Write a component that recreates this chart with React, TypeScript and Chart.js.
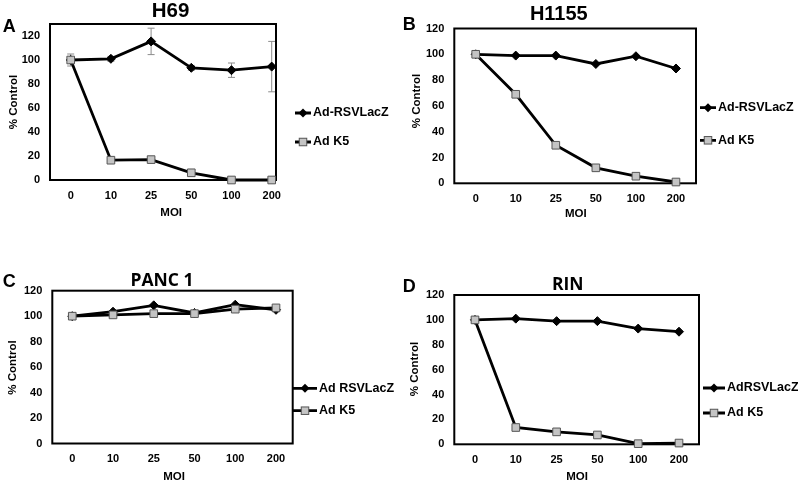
import React, { useEffect, useRef } from "react";
import { Chart, registerables } from "chart.js";

Chart.register(...registerables);

// ---------- data ----------
const moiLabels = ["0", "10", "25", "50", "100", "200"];

const h69LacZ = [100, 101, 115.5, 93.5, 91.5, 94.5];
const h69LacZErr = [5, 2, 11, 2, 6, 21];
const h69K5 = [100, 16.5, 17, 6, 0, 0];

const h1155LacZ = [100, 99, 99, 92.5, 98.5, 89];
const h1155K5 = [100, 69, 29.5, 12, 5.5, 1];

const panc1LacZ = [100, 103.5, 108.5, 102.5, 109, 105];
const panc1K5 = [100, 101, 102, 102, 105.5, 106.5];

const rinLacZ = [100, 101, 99, 99, 93, 90.5];
const rinK5 = [100, 13.5, 10, 7.5, 0.5, 1];

const yTicks = [0, 20, 40, 60, 80, 100, 120];

// ---------- layout ----------
const ARIAL = "'Liberation Sans', Arial, Helvetica, sans-serif";
const CALI = "'Open Sans', 'Noto Sans', sans-serif";
const YW = 40;
const XH = 30;
const LINE_W = 2.8;

interface PanelCfg {
  id: string;
  letter: string;
  title: string;
  titleFont: string;
  titleSize: number;
  lacz: number[];
  k5: number[];
  laczErr?: number[];
  laczName: string;
  k5Name: string;
  box: { left: number; top: number; w: number; h: number };
  area: { l: number; t: number; r: number; b: number };
  xMin: number;
  xMax: number;
  yMax: number;
  letterAt: [number, number];
  titleAt: [number, number];
  yTitleAt: [number, number];
  xTitleY: number;
  legend: { x: number; y1: number; y2: number; len: number };
}

const panels: PanelCfg[] = [
  {
    id: "A",
    letter: "A",
    title: "H69",
    titleFont: ARIAL,
    titleSize: 20.5,
    lacz: h69LacZ,
    k5: h69K5,
    laczErr: h69LacZErr,
    laczName: "Ad-RSVLacZ",
    k5Name: "Ad K5",
    box: { left: 0, top: 0, w: 399, h: 240 },
    area: { l: 50, t: 24, r: 276, b: 180 },
    xMin: -0.515,
    xMax: 5.107,
    yMax: 130,
    letterAt: [2.7, 26],
    titleAt: [170.5, 9.5],
    yTitleAt: [13.5, 102],
    xTitleY: 212.7,
    legend: { x: 295, y1: 113, y2: 142, len: 16 },
  },
  {
    id: "B",
    letter: "B",
    title: "H1155",
    titleFont: ARIAL,
    titleSize: 20,
    lacz: h1155LacZ,
    k5: h1155K5,
    laczName: "Ad-RSVLacZ",
    k5Name: "Ad K5",
    box: { left: 399, top: 0, w: 399, h: 240 },
    area: { l: 55.3, t: 28.5, r: 297, b: 183.3 },
    xMin: -0.534,
    xMax: 5.5,
    yMax: 120,
    letterAt: [3.7, 23.3],
    titleAt: [159.8, 13.3],
    yTitleAt: [17.5, 101],
    xTitleY: 214,
    legend: { x: 301, y1: 107.7, y2: 140.3, len: 16 },
  },
  {
    id: "C",
    letter: "C",
    title: "PANC 1",
    titleFont: CALI,
    titleSize: 17.5,
    lacz: panc1LacZ,
    k5: panc1K5,
    laczName: "Ad RSVLacZ",
    k5Name: "Ad K5",
    box: { left: 0, top: 240, w: 399, h: 241 },
    area: { l: 52.3, t: 50.7, r: 292.7, b: 203.5 },
    xMin: -0.49,
    xMax: 5.41,
    yMax: 120,
    letterAt: [2.7, 40.5],
    titleAt: [162, 40],
    yTitleAt: [13.3, 127.5],
    xTitleY: 236.7,
    legend: { x: 293, y1: 148.3, y2: 170.7, len: 24 },
  },
  {
    id: "D",
    letter: "D",
    title: "RIN",
    titleFont: CALI,
    titleSize: 17.5,
    lacz: rinLacZ,
    k5: rinK5,
    laczName: "AdRSVLacZ",
    k5Name: "Ad K5",
    box: { left: 399, top: 240, w: 399, h: 241 },
    area: { l: 55.3, t: 55, r: 300, b: 204.3 },
    xMin: -0.507,
    xMax: 5.49,
    yMax: 120,
    letterAt: [3.7, 45.8],
    titleAt: [168.7, 43.3],
    yTitleAt: [16, 129],
    xTitleY: 237,
    legend: { x: 304, y1: 148, y2: 173, len: 22 },
  },
];

function drawDiamond(ctx: CanvasRenderingContext2D, x: number, y: number, r: number) {
  ctx.beginPath();
  ctx.moveTo(x, y - r);
  ctx.lineTo(x + r, y);
  ctx.lineTo(x, y + r);
  ctx.lineTo(x - r, y);
  ctx.closePath();
  ctx.fillStyle = "#000";
  ctx.fill();
}

function drawSquare(ctx: CanvasRenderingContext2D, x: number, y: number, s: number) {
  ctx.fillStyle = "#c4c4c4";
  ctx.fillRect(x - s / 2, y - s / 2, s, s);
  ctx.strokeStyle = "#555";
  ctx.lineWidth = 1;
  ctx.strokeRect(x - s / 2, y - s / 2, s, s);
}

function PanelChart({ p }: { p: PanelCfg }) {
  const ref = useRef<HTMLCanvasElement | null>(null);

  useEffect(() => {
    if (!ref.current) return;
    const W = p.box.w;
    const H = p.box.h;

    const decor = {
      id: "decor_" + p.id,
      beforeDatasetsDraw(chart: any) {
        const ctx: CanvasRenderingContext2D = chart.ctx;
        const a = chart.chartArea;
        const xs = chart.scales.x;
        const ys = chart.scales.y;
        if (p.laczErr) {
          ctx.save();
          ctx.strokeStyle = "#8c8c8c";
          ctx.lineWidth = 1;
          p.laczErr.forEach((e, i) => {
            if (!e) return;
            const x = xs.getPixelForValue(i);
            const y1 = ys.getPixelForValue(p.lacz[i] + e);
            const y2 = ys.getPixelForValue(p.lacz[i] - e);
            ctx.beginPath();
            ctx.moveTo(x, y1);
            ctx.lineTo(x, y2);
            ctx.moveTo(x - 3.5, y1);
            ctx.lineTo(x + 3.5, y1);
            ctx.moveTo(x - 3.5, y2);
            ctx.lineTo(x + 3.5, y2);
            ctx.stroke();
          });
          ctx.restore();
        }
        ctx.save();
        ctx.strokeStyle = "#000";
        ctx.lineWidth = 2;
        ctx.strokeRect(a.left, a.top, a.right - a.left, a.bottom - a.top);
        ctx.restore();
      },
      afterDraw(chart: any) {
        const ctx: CanvasRenderingContext2D = chart.ctx;
        const xs = chart.scales.x;
        ctx.save();
        ctx.fillStyle = "#000";
        // panel letter
        ctx.font = `bold 18px ${ARIAL}`;
        ctx.textAlign = "left";
        ctx.textBaseline = "alphabetic";
        ctx.fillText(p.letter, p.letterAt[0], p.letterAt[1] + 18 * 0.358);
        // title
        ctx.font = `bold ${p.titleSize}px ${p.titleFont}`;
        ctx.textAlign = "center";
        ctx.fillText(p.title, p.titleAt[0], p.titleAt[1] + p.titleSize * 0.358);
        // y title
        ctx.save();
        ctx.translate(p.yTitleAt[0], p.yTitleAt[1]);
        ctx.rotate(-Math.PI / 2);
        ctx.font = `bold 11.5px ${ARIAL}`;
        ctx.textAlign = "center";
        ctx.textBaseline = "middle";
        ctx.fillText("% Control", 0, 0);
        ctx.restore();
        // x title
        ctx.font = `bold 11.5px ${ARIAL}`;
        ctx.textAlign = "center";
        ctx.textBaseline = "middle";
        ctx.fillText("MOI", xs.getPixelForValue(2.5), p.xTitleY);
        // legend
        const L = p.legend;
        const mid = L.x + L.len / 2;
        ctx.strokeStyle = "#000";
        ctx.lineWidth = LINE_W;
        ctx.beginPath();
        ctx.moveTo(L.x, L.y1);
        ctx.lineTo(L.x + L.len, L.y1);
        ctx.moveTo(L.x, L.y2);
        ctx.lineTo(L.x + L.len, L.y2);
        ctx.stroke();
        drawDiamond(ctx, mid, L.y1, 4.5);
        drawSquare(ctx, mid, L.y2, 7.5);
        ctx.fillStyle = "#000";
        ctx.font = `bold 12.5px ${ARIAL}`;
        ctx.textAlign = "left";
        ctx.textBaseline = "middle";
        ctx.fillText(p.laczName, L.x + L.len + 2, L.y1);
        ctx.fillText(p.k5Name, L.x + L.len + 2, L.y2);
        ctx.restore();
      },
    };

    const chart = new Chart(ref.current, {
      type: "line",
      data: {
        datasets: [
          {
            label: p.laczName,
            data: p.lacz.map((y, i) => ({ x: i, y })),
            borderColor: "#000",
            borderWidth: LINE_W,
            pointStyle: "rectRot",
            pointRadius: 4.5,
            pointBackgroundColor: "#000",
            pointBorderColor: "#000",
            pointBorderWidth: 1,
            tension: 0,
            clip: false,
            order: 2,
          } as any,
          {
            label: p.k5Name,
            data: p.k5.map((y, i) => ({ x: i, y })),
            borderColor: "#000",
            borderWidth: LINE_W,
            pointStyle: "rect",
            pointRadius: 5.4,
            pointBackgroundColor: "#c4c4c4",
            pointBorderColor: "#555",
            pointBorderWidth: 1,
            tension: 0,
            clip: false,
            order: 1,
          } as any,
        ],
      },
      options: {
        responsive: false,
        animation: false,
        devicePixelRatio: 1,
        layout: {
          padding: {
            left: p.area.l - YW,
            top: p.area.t,
            right: W - p.area.r,
            bottom: H - p.area.b - XH,
          },
        },
        plugins: {
          legend: { display: false },
          tooltip: { enabled: false },
          title: { display: false },
        },
        scales: {
          x: {
            type: "linear",
            min: p.xMin,
            max: p.xMax,
            grid: { display: false, drawTicks: false },
            border: { display: false },
            afterBuildTicks: (s: any) => {
              s.ticks = moiLabels.map((_, i) => ({ value: i }));
            },
            afterFit: (s: any) => {
              s.height = XH;
            },
            ticks: {
              padding: 9,
              autoSkip: false,
              maxRotation: 0,
              color: "#000",
              font: { family: ARIAL, size: 11, weight: "bold" },
              callback: (v: any) => moiLabels[Math.round(Number(v))] ?? "",
            },
          },
          y: {
            type: "linear",
            min: 0,
            max: p.yMax,
            grid: { display: false, drawTicks: false },
            border: { display: false },
            afterBuildTicks: (s: any) => {
              s.ticks = yTicks.map((v) => ({ value: v }));
            },
            afterFit: (s: any) => {
              s.width = YW;
            },
            ticks: {
              padding: 10,
              color: "#000",
              font: { family: ARIAL, size: 11, weight: "bold" },
              callback: (v: any) => String(v),
            },
          },
        },
      } as any,
      plugins: [decor as any],
    });

    return () => chart.destroy();
  }, [p]);

  return (
    <canvas
      ref={ref}
      width={p.box.w}
      height={p.box.h}
      style={{
        position: "absolute",
        left: p.box.left,
        top: p.box.top,
        width: p.box.w,
        height: p.box.h,
      }}
    />
  );
}

export default function App() {
  return (
    <div
      style={{
        position: "absolute",
        left: 0,
        top: 0,
        width: 798,
        height: 481,
        background: "#fff",
        overflow: "hidden",
      }}
    >
      {panels.map((p) => (
        <PanelChart key={p.id} p={p} />
      ))}
    </div>
  );
}
